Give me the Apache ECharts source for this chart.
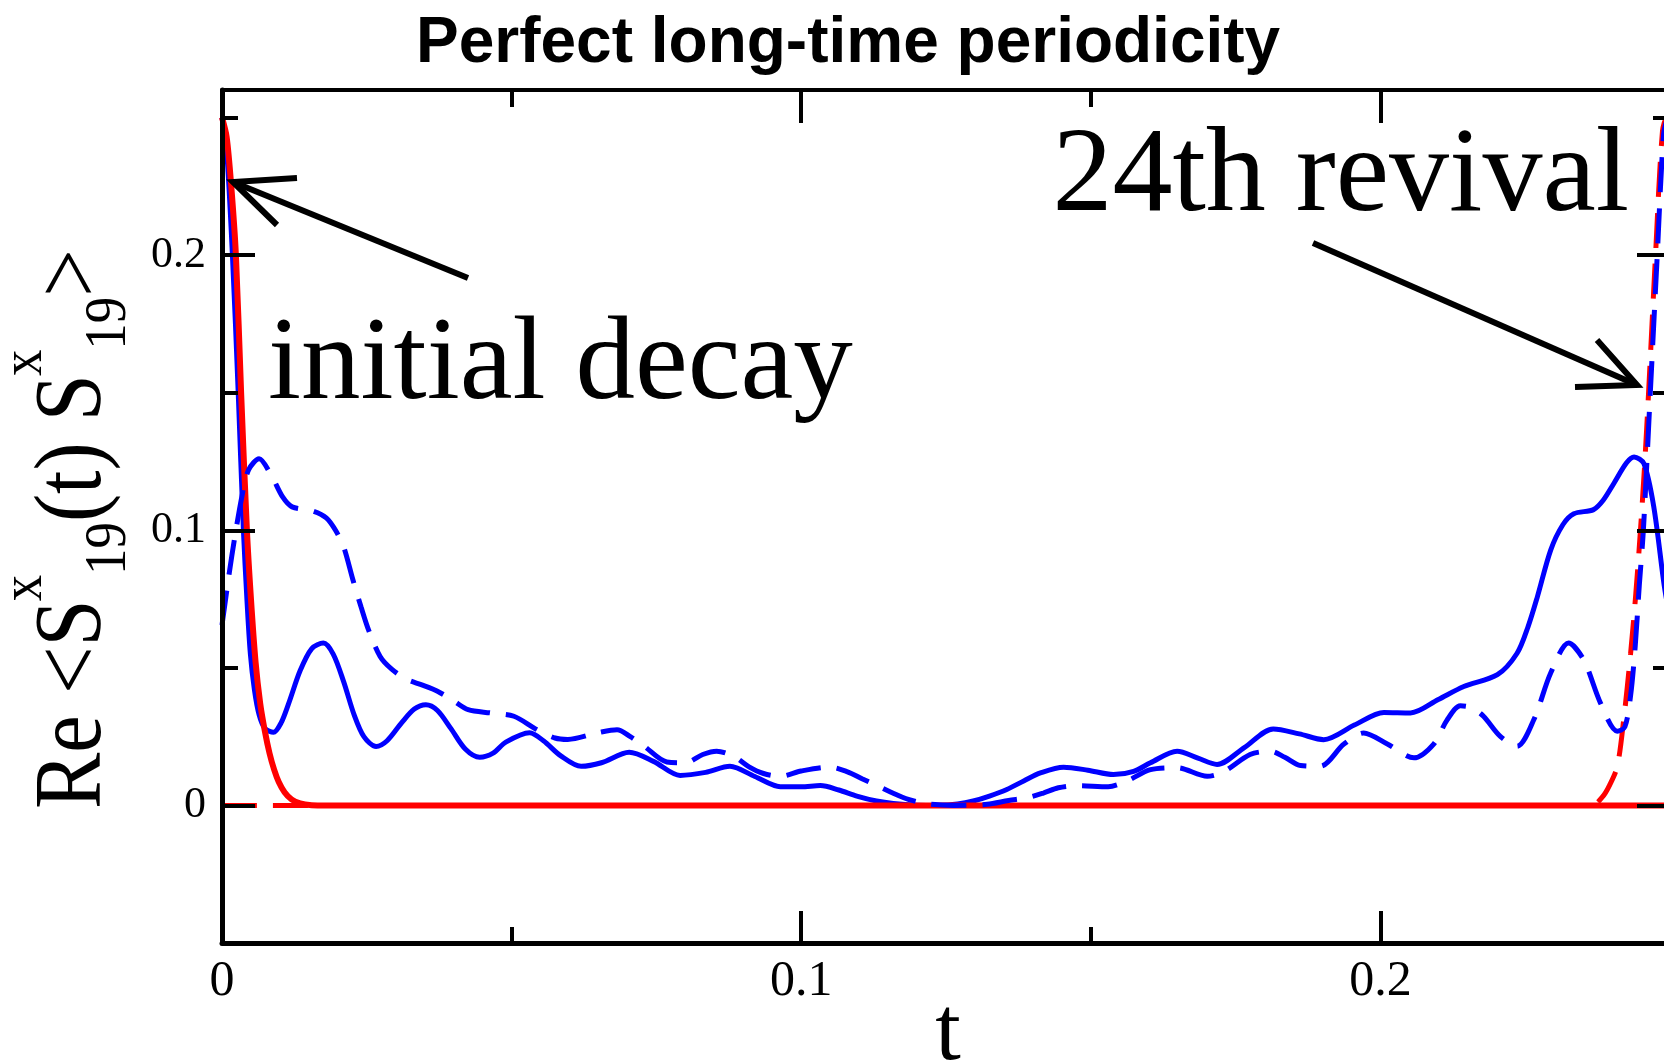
<!DOCTYPE html>
<html>
<head>
<meta charset="UTF-8">
<title>Perfect long-time periodicity</title>
<script src="https://cdn.jsdelivr.net/npm/echarts@6/dist/echarts.min.js"></script>
<style>
    html, body { margin: 0; padding: 0; background: #fff; }
    #main { width: 1664px; height: 1060px; }
</style>
</head>
<body>
<div id="main"></div>
<script>
// values, [t, Re<S S>]
var redSolid = [[0, 0.25], [0.0008, 0.243], [0.0016, 0.225], [0.0024, 0.2], [0.0033, 0.15], [0.0043, 0.1],
    [0.005, 0.075], [0.0058, 0.052], [0.0066, 0.037], [0.0074, 0.027], [0.0082, 0.019], [0.009, 0.013],
    [0.0098, 0.0085], [0.0108, 0.0048], [0.012, 0.0022], [0.0135, 0.0007], [0.0155, 0.0001], [0.018, 0], [0.25, 0]];

var redDashed = [[0, 0], [0.2365, 0], [0.2383, 0.003], [0.2396, 0.0075], [0.2409, 0.0142], [0.242, 0.031],
    [0.2432, 0.0553], [0.2441, 0.077], [0.2449, 0.1], [0.2456, 0.123], [0.2463, 0.15], [0.2475, 0.2],
    [0.2487, 0.245], [0.2495, 0.25], [0.25, 0.249]];

var blueSolid = [[0, 0.25], [0.0008, 0.238], [0.0018, 0.2], [0.0028, 0.15], [0.0037, 0.1], [0.0043, 0.075],
    [0.0049, 0.055], [0.0056, 0.042], [0.0064, 0.033], [0.0074, 0.028], [0.0089, 0.0266], [0.0102, 0.03], [0.0115, 0.037],
    [0.0135, 0.049], [0.0155, 0.057], [0.0175, 0.059], [0.0192, 0.055], [0.021, 0.045], [0.0228, 0.033],
    [0.0245, 0.025], [0.0266, 0.0214], [0.0285, 0.0235], [0.031, 0.03], [0.0332, 0.035], [0.0352, 0.0366],
    [0.0372, 0.0345], [0.0395, 0.028], [0.042, 0.0205], [0.0445, 0.0175], [0.0468, 0.019], [0.049, 0.023],
    [0.0531, 0.0264], [0.0555, 0.0235], [0.0585, 0.018], [0.062, 0.0142], [0.0655, 0.0155], [0.0703, 0.0193],
    [0.0745, 0.016], [0.0791, 0.0109], [0.0835, 0.012], [0.0877, 0.0142], [0.092, 0.0105], [0.0964, 0.0068],
    [0.1, 0.0068], [0.1033, 0.0072], [0.1065, 0.0056], [0.1096, 0.0034], [0.113, 0.0016], [0.1159, 0.0007],
    [0.12, 0.0001], [0.124, 0], [0.127, 0.0005], [0.1297, 0.0016], [0.1325, 0.0034], [0.1355, 0.0058],
    [0.1385, 0.009], [0.1413, 0.0118], [0.1453, 0.0139], [0.1495, 0.0128], [0.1539, 0.0112], [0.1574, 0.0124],
    [0.1603, 0.0155], [0.1649, 0.0197], [0.1685, 0.0172], [0.1718, 0.0149], [0.1765, 0.021], [0.1815, 0.0278],
    [0.186, 0.026], [0.1902, 0.0239], [0.1955, 0.0292], [0.2006, 0.0338], [0.2052, 0.0336], [0.21, 0.0385],
    [0.2144, 0.0432], [0.2202, 0.0475], [0.2236, 0.0553], [0.2255, 0.065], [0.2271, 0.0758], [0.2294, 0.0928],
    [0.2315, 0.102], [0.2334, 0.106], [0.2368, 0.1075], [0.2385, 0.111], [0.2403, 0.117], [0.2425, 0.1245],
    [0.2438, 0.1266], [0.2455, 0.1242], [0.2472, 0.1085], [0.249, 0.08], [0.25, 0.068]];

var blueDashed = [[0, 0.0655], [0.0017, 0.0908], [0.0035, 0.113], [0.0046, 0.122], [0.0064, 0.126],
    [0.0085, 0.12], [0.0105, 0.112], [0.0121, 0.1085], [0.0157, 0.107], [0.018, 0.1045], [0.0196, 0.1],
    [0.021, 0.094], [0.0226, 0.082], [0.024, 0.0722], [0.0253, 0.0638], [0.0273, 0.0541], [0.0293, 0.0495],
    [0.0319, 0.0458], [0.0345, 0.0438], [0.0372, 0.0415], [0.04, 0.038], [0.0425, 0.0348], [0.0464, 0.0336],
    [0.0504, 0.0324], [0.0544, 0.0275], [0.0575, 0.0245], [0.0597, 0.024], [0.0649, 0.0264], [0.0682, 0.0275],
    [0.0705, 0.025], [0.0729, 0.0215], [0.0768, 0.0158], [0.08, 0.0155], [0.083, 0.0185], [0.0854, 0.0197],
    [0.0883, 0.0179], [0.091, 0.014], [0.0935, 0.0116], [0.0964, 0.0106], [0.1, 0.0125], [0.105, 0.0139],
    [0.108, 0.0122], [0.1105, 0.0097], [0.1131, 0.0072], [0.1158, 0.0045], [0.1185, 0.0022], [0.1217, 0.0006],
    [0.1263, 0], [0.1321, 0.0004], [0.1358, 0.0018], [0.139, 0.0028], [0.1418, 0.0045], [0.1444, 0.0064],
    [0.1476, 0.0072], [0.153, 0.0068], [0.1562, 0.0088], [0.1603, 0.013], [0.1649, 0.0137], [0.1701, 0.0106],
    [0.1729, 0.0122], [0.1775, 0.0185], [0.181, 0.0197], [0.1835, 0.0175], [0.1862, 0.0145], [0.1896, 0.0142],
    [0.1937, 0.0223], [0.1971, 0.0263], [0.2012, 0.0223], [0.2058, 0.0173], [0.2092, 0.0223], [0.2115, 0.031],
    [0.2138, 0.0362], [0.2158, 0.0355], [0.2178, 0.0324], [0.2207, 0.0251], [0.2236, 0.0215], [0.2265, 0.0312],
    [0.2294, 0.0481], [0.2325, 0.059], [0.2351, 0.0529], [0.238, 0.0372], [0.2409, 0.027], [0.2422, 0.0285],
    [0.2432, 0.04], [0.244, 0.058], [0.2447, 0.08], [0.2454, 0.1], [0.2466, 0.15], [0.2478, 0.2],
    [0.2489, 0.244], [0.2496, 0.25]];

// tick positions and labels
var xLabels = [0, 0.1, 0.2];
var xMajor = [0.1, 0.2];
var xMinor = [0.05, 0.15];
var yLabels = [0, 0.1, 0.2];
var yMajor = [0, 0.1, 0.2];
var yMinor = [0.05, 0.15, 0.25];

var serif = '"Liberation Serif", "Times New Roman", serif';

function xAx(pos, ticks, len, lineW, labels) {
    return {
        type: 'value', position: pos, min: 0, max: 0.25, z: 10,
        axisLine: { show: lineW > 0, onZero: false, lineStyle: { color: '#000', width: lineW } },
        axisTick: { show: true, inside: true, length: len, customValues: ticks, lineStyle: { color: '#000', width: 4 } },
        axisLabel: labels ? {
            show: true, customValues: labels, margin: 14, color: '#000', fontSize: 50, fontFamily: serif
        } : { show: false },
        splitLine: { show: false }
    };
}
function yAx(pos, ticks, len, lineW, labels) {
    return {
        type: 'value', position: pos, min: -0.05, max: 0.26, z: 10,
        axisLine: { show: lineW > 0, onZero: false, lineStyle: { color: '#000', width: lineW } },
        axisTick: { show: true, inside: true, length: len, customValues: ticks, lineStyle: { color: '#000', width: 4 } },
        axisLabel: labels ? {
            show: true, customValues: labels, margin: 16, color: '#000', fontSize: 44, fontFamily: serif
        } : { show: false },
        splitLine: { show: false }
    };
}

// text of the y axis title, laid out along the rotated group
function piece(text, lx, base, size) {
    return {
        type: 'text', x: lx, y: base - 0.3375 * size,
        style: { text: text, fontSize: size, fontFamily: serif, fill: '#000', align: 'left', verticalAlign: 'middle' }
    };
}

var myChart = echarts.init(document.getElementById('main'));
var option = {
    backgroundColor: '#fff',
    animation: false,
    title: {
        text: 'Perfect long-time periodicity',
        left: 416, top: 12, padding: 0,
        textStyle: { fontFamily: '"Liberation Sans", Arial, sans-serif', fontWeight: 'bold', fontSize: 64, color: '#000' }
    },
    grid: { left: 222, right: -6, top: 90, bottom: 117, containLabel: false, outerBoundsMode: 'none' },
    xAxis: [
        xAx('bottom', xMajor, 32, 5, xLabels),
        xAx('bottom', xMinor, 16, 0, null),
        xAx('top', xMajor, 33, 4, null),
        xAx('top', xMinor, 17, 0, null)
    ],
    yAxis: [
        yAx('left', yMajor, 33, 5, yLabels),
        yAx('left', yMinor, 16, 0, null),
        yAx('right', yMajor, 33, 5, null),
        yAx('right', yMinor, 17, 0, null)
    ],
    series: [
        { type: 'line', data: redDashed, showSymbol: false, smooth: 0.3,
          lineStyle: { color: '#ff0000', width: 5, type: [35, 16] } },
        { type: 'line', data: blueSolid, showSymbol: false, smooth: 0.3,
          lineStyle: { color: '#0000ff', width: 5 } },
        { type: 'line', data: redSolid, showSymbol: false, smooth: 0.3,
          lineStyle: { color: '#ff0000', width: 6 } },
        { type: 'line', data: blueDashed, showSymbol: false, smooth: 0.3,
          lineStyle: { color: '#0000ff', width: 5, type: [35, 16] } }
    ],
    graphic: [
        {
            type: 'group', x: 107, y: 809, rotation: Math.PI / 2, scaleX: 0.88, z: 100,
            children: [
                piece('Re <S', 0, 0, 96),
                piece('x', 236, -62, 60),
                piece('19', 266, 22, 60),
                piece('(t) S', 326, 0, 96),
                piece('x', 492, -62, 60),
                piece('19', 522, 22, 60),
                piece('>', 582, 0, 96)
            ]
        },
        // x axis title
        {
            type: 'text', x: 948, y: 1057 - 0.24 * 92, z: 100,
            style: { text: 't', fontSize: 92, fontFamily: serif, fill: '#000', align: 'center', verticalAlign: 'middle' }
        },
        {
            type: 'text', x: 268, y: 395 - 0.24 * 119, z: 100,
            style: { text: 'initial decay', fontSize: 119, fontFamily: serif, fill: '#000', align: 'left', verticalAlign: 'middle' }
        },
        {
            type: 'text', x: 1629, y: 207 - 0.24 * 120, z: 100,
            style: { text: '24th revival', fontSize: 120, fontFamily: serif, fill: '#000', align: 'right', verticalAlign: 'middle' }
        },
        // arrows
        { type: 'polyline', z: 100, shape: { points: [[468, 278], [233, 182]] }, style: { stroke: '#000', lineWidth: 6, fill: null } },
        { type: 'polyline', z: 100, shape: { points: [[297, 178], [233, 182], [277, 225]] }, style: { stroke: '#000', lineWidth: 6, fill: null } },
        { type: 'polyline', z: 100, shape: { points: [[1313, 243], [1637, 385]] }, style: { stroke: '#000', lineWidth: 6, fill: null } },
        { type: 'polyline', z: 100, shape: { points: [[1575, 387], [1637, 385], [1597, 340]] }, style: { stroke: '#000', lineWidth: 6, fill: null } }
    ]
};
myChart.setOption(option);
</script>
</body>
</html>
